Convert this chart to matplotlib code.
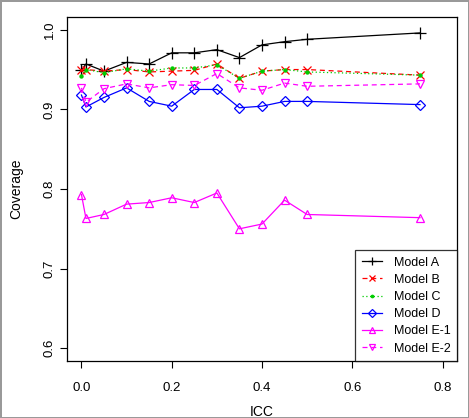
import matplotlib
matplotlib.use("Agg")
import matplotlib.pyplot as plt

plt.rcParams['font.family'] = ['Liberation Sans', 'DejaVu Sans']

icc = [0.0, 0.01, 0.05, 0.10, 0.15, 0.20, 0.25, 0.30, 0.35, 0.40, 0.45, 0.50, 0.75]
model_a = [0.949, 0.957, 0.948, 0.959, 0.957, 0.971, 0.971, 0.975, 0.965, 0.981, 0.985, 0.988, 0.996]
model_b = [0.949, 0.950, 0.948, 0.950, 0.947, 0.948, 0.949, 0.957, 0.939, 0.948, 0.950, 0.950, 0.943]
model_c = [0.942, 0.950, 0.946, 0.951, 0.948, 0.952, 0.952, 0.956, 0.939, 0.948, 0.950, 0.947, 0.943]
model_d = [0.918, 0.903, 0.915, 0.927, 0.910, 0.904, 0.925, 0.925, 0.902, 0.904, 0.910, 0.910, 0.906]
model_e1 = [0.793, 0.763, 0.768, 0.781, 0.783, 0.789, 0.783, 0.795, 0.750, 0.756, 0.786, 0.768, 0.764]
model_e2 = [0.927, 0.909, 0.926, 0.932, 0.927, 0.931, 0.930, 0.945, 0.927, 0.924, 0.933, 0.929, 0.932]

labels = ["Model A", "Model B", "Model C", "Model D", "Model E-1", "Model E-2"]
series = [model_a, model_b, model_c, model_d, model_e1, model_e2]
colors = ["black", "#FF0000", "#00CD00", "#0000FF", "#FF00FF", "#FF00FF"]
styles = ["-", (0, (4, 3)), (0, (1, 2)), "-", "-", (0, (4, 3))]
markers = ["+", "x", ".", "D", "^", "v"]
msizes = [8, 5.5, 4.5, 5, 6, 6]

fig = plt.figure(figsize=(4.69, 4.18), dpi=100)
fig.patch.set_edgecolor("#999999")
fig.patch.set_linewidth(2)
ax = fig.add_axes([67/469, 1 - 361/418, (457-67)/469, (361-17)/418])

for y, lab, c, ls, m, ms in zip(series, labels, colors, styles, markers, msizes):
    ax.plot(icc, y, color=c, linestyle=ls, linewidth=0.9, marker=m, markersize=ms,
            markerfacecolor="none" if m != "." else c,
            markeredgecolor=c, markeredgewidth=0.9, label=lab)

ax.set_xlim(-0.032, 0.832)
ax.set_ylim(0.584, 1.016)
ax.set_xticks([0.0, 0.2, 0.4, 0.6, 0.8])
ax.set_xticklabels(["0.0", "0.2", "0.4", "0.6", "0.8"])
ax.set_yticks([0.6, 0.7, 0.8, 0.9, 1.0])
ax.set_yticklabels(["0.6", "0.7", "0.8", "0.9", "1.0"], rotation=90, va="center")
ax.tick_params(direction="out", length=5, width=0.8, labelsize=9.5)
ax.tick_params(axis="x", pad=10)
ax.tick_params(axis="y", pad=3)
for s in ax.spines.values():
    s.set_linewidth(0.9)
ax.set_xlabel("ICC", fontsize=10, va="top")
ax.xaxis.set_label_coords(0.5, -0.128)
ax.set_ylabel("Coverage", fontsize=10, va="bottom")
ax.yaxis.set_label_coords(-0.111, 0.5)

leg = ax.legend(loc="lower right", fontsize=9, frameon=True, fancybox=False,
                edgecolor="black", borderaxespad=0, handlelength=1.6,
                labelspacing=0.42, borderpad=0.5, handletextpad=1.0,
                markerscale=0.8)
leg.get_frame().set_linewidth(0.9)

fig.savefig("out.png", dpi=100)
